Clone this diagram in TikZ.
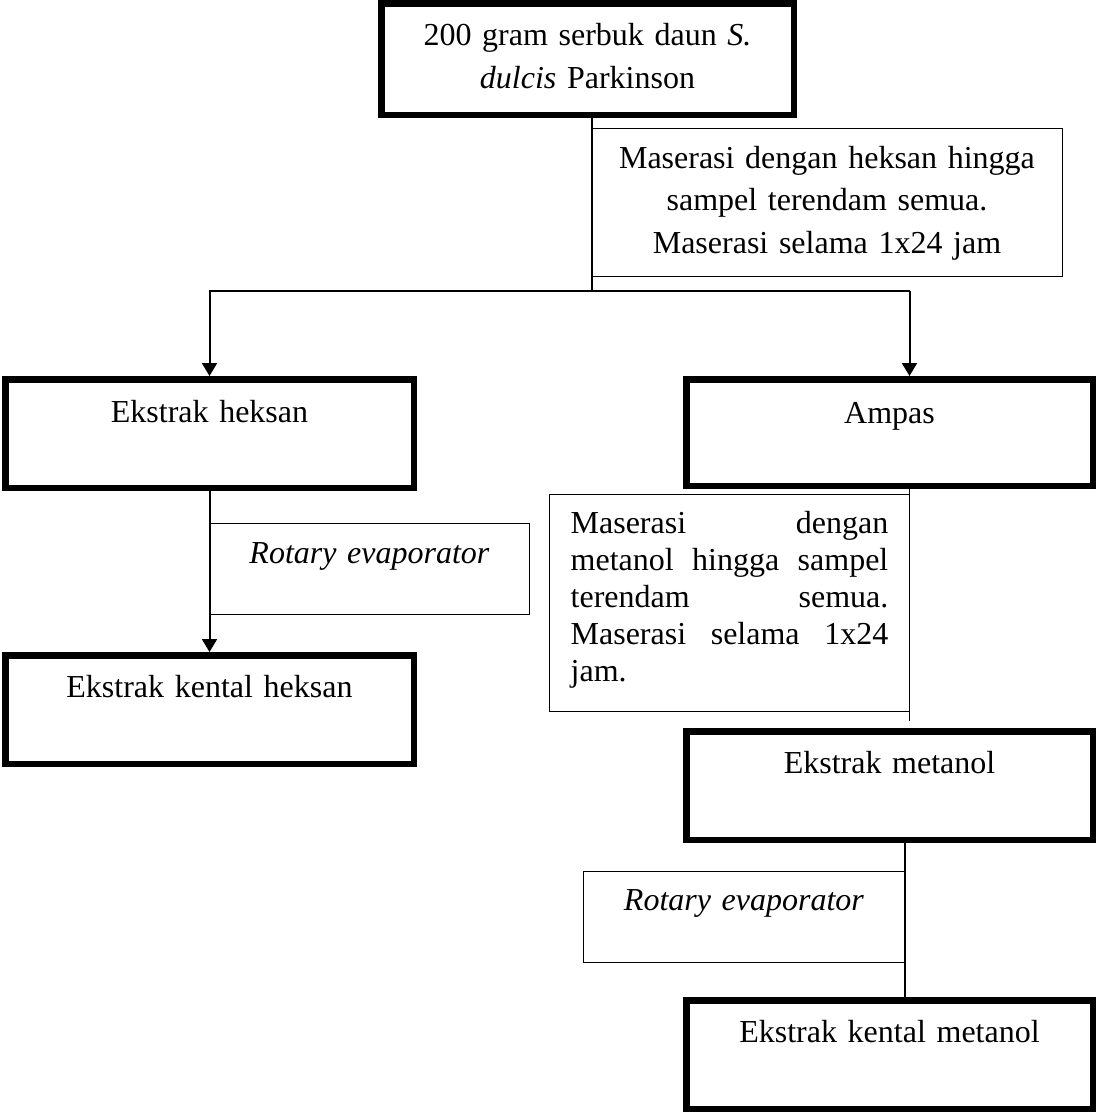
\documentclass[tikz,border=0pt]{standalone}
\usepackage{fontspec}
\setmainfont{Liberation Serif}
\usepackage{tikz}
\usetikzlibrary{arrows.meta}

\begin{document}
\begin{tikzpicture}[x=1pt, y=-1pt,
		thickbox/.style={draw, line width=6.5pt, inner sep=0pt, align=center, anchor=north west},
		thinbox/.style={draw, line width=1.3pt, inner sep=0pt, align=center, anchor=north west},
		txt/.style={font=\fontsize{32}{#1}\selectfont},
		conn/.style={line width=2pt},
		connthin/.style={line width=1.3pt},
		tip/.style={-{Triangle[length=13pt, width=15pt]}}]
	\useasboundingbox (0,0) rectangle (1096,1114);
	% kotak proses
	\node[thickbox, txt=43, text width=412.5pt, text height=41.75pt, text depth=69.75pt] (serbuk) at (378,0) {200 gram serbuk daun \textit{S.}\\ \textit{dulcis} Parkinson};
	\node[thinbox, txt=42.5, text width=470.7pt, text height=39.35pt, text depth=108.35pt] (maseheks) at (591,128) {Maserasi dengan heksan hingga\\ sampel terendam  semua.\\ Maserasi selama 1x24 jam};
	\node[thickbox, txt=40, text width=408.5pt, text height=42.75pt, text depth=65.75pt] (ekheks) at (2,376) {Ekstrak heksan};
	\node[thickbox, txt=40, text width=406.5pt, text height=43.75pt, text depth=62.75pt] (ampas) at (683,376) {Ampas};
	\node[thinbox, txt=40, text width=319.7pt, text height=39.35pt, text depth=51.35pt] (rotheks) at (209,523) {\textit{Rotary evaporator}};
	\node[thickbox, txt=40, text width=408.5pt, text height=41.75pt, text depth=66.75pt] (kenheks) at (2,652) {Ekstrak kental heksan};
	\node[thinbox, txt=37, align=justify, inner xsep=21pt, text width=317.7pt, text height=38.35pt, text depth=178.35pt] (masemet) at (549,494) {\spaceskip=8pt plus 1fil\relax Maserasi dengan\linebreak metanol hingga sampel\linebreak terendam semua.\linebreak Maserasi selama 1x24\linebreak jam.};
	\node[thickbox, txt=40, text width=406.5pt, text height=41.75pt, text depth=66.75pt] (ekmet) at (683,728) {Ekstrak metanol};
	\node[thinbox, txt=40, text width=320.7pt, text height=38.35pt, text depth=52.35pt] (rotmet) at (583,871) {\textit{Rotary evaporator}};
	\node[thickbox, txt=40, text width=406.5pt, text height=41.75pt, text depth=66.75pt] (kenmet) at (683,997) {Ekstrak kental metanol};
	% alur
	\coordinate (cabang) at (591.6,291);
	\coordinate (cabangkanan) at (909.5,291);
	\coordinate (ujungmet) at (909.5,721);
	\draw[conn] (serbuk.south -| cabang) -- (cabang);
	\draw[conn] (cabang) -- (cabangkanan);
	\draw[conn, tip] (cabang) -| (ekheks.north);
	\draw[conn, tip] (cabangkanan) -- (ampas.north -| cabangkanan);
	\draw[conn, tip] (ekheks.south) -- (kenheks.north);
	\draw[connthin] (ampas.south -| ujungmet) -- (ujungmet);
	\draw[connthin] (ekmet.south -| rotmet.east) -- (kenmet.north -| rotmet.east);
\end{tikzpicture}
\end{document}
